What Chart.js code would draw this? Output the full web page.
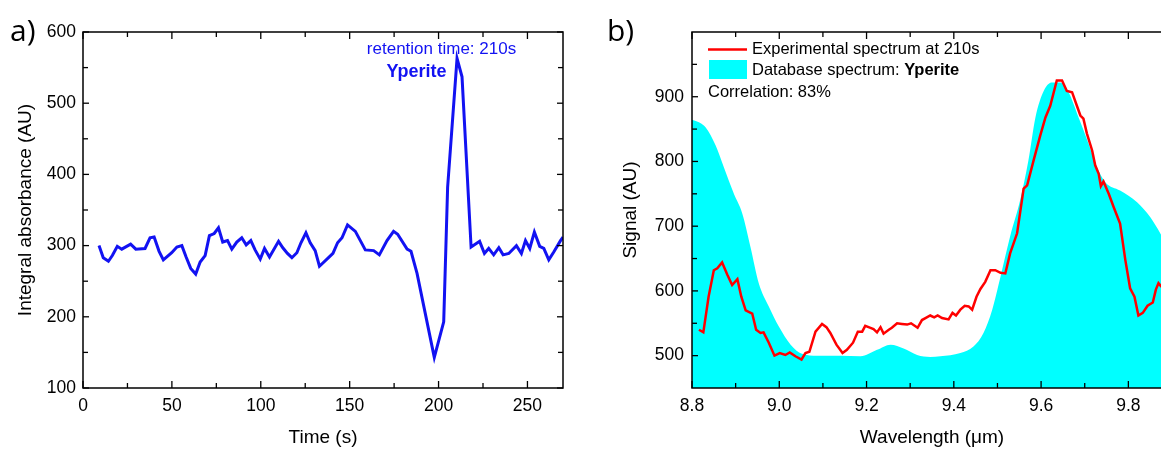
<!DOCTYPE html>
<html>
<head>
<meta charset="utf-8">
<script src="https://cdn.jsdelivr.net/npm/chart.js@4.4.1/dist/chart.umd.min.js"></script>
<style>
html, body { margin:0; padding:0; background:#fff; overflow:hidden; width:1161px; height:452px; }
.box { position:absolute; top:0; width:580px; height:452px; }
#boxA { left:0; }
#boxB { left:600px; }
</style>
</head>
<body>
<div class="box" id="boxA"><canvas id="chartA" width="580" height="452"></canvas></div>
<div class="box" id="boxB"><canvas id="chartB" width="580" height="452"></canvas></div>
<script>
// a) chromatogram
const timeS = [9, 11.4, 14.3, 16.5, 19.3, 21.8, 26.8, 29.7, 34.9, 37.7, 40, 42.8, 45.2, 49.9, 52.8, 55.6, 58, 60.6, 63.4, 65.9,
  68.7, 71.1, 73.8, 76.2, 78.6, 81.3, 83.7, 86.5, 89.3, 91.8, 94.4, 96.8, 99.7, 102.1, 104.9, 110, 112.4, 115, 117.5, 120.3,
  122.6, 125.4, 127.8, 130.6, 133, 138.1, 140.6, 143.2, 145.7, 148.8, 153.2, 156, 158.8, 163.5, 166.7, 171, 174.7, 177, 182.3, 184.5,
  187.9, 197.6, 202.9, 205.1, 210.4, 213.2, 218.3, 223.1, 225.8, 228.2, 231, 233.9, 236.3, 239.5, 243.8, 246.6, 248.9, 251.3, 253.9, 256.9,
  259.2, 262, 264.8, 268.6, 270];
const absorbance = [300, 283, 278, 286, 299, 295, 302, 295, 296, 311, 312, 292, 280, 290, 298, 300, 284, 268, 260, 277,
  286, 314, 317, 325, 305, 307, 295, 305, 311, 301, 307, 294, 281, 296, 284, 306, 297, 289, 283, 290,
  304, 318, 304, 293, 271, 283, 289, 304, 311, 329, 320, 307, 294, 293, 287, 307, 320, 316, 295, 292,
  261, 143, 193, 382, 563, 537, 298, 306, 289, 296, 287, 297, 287, 289, 300, 289, 307, 296, 319, 299,
  296, 280, 291, 307, 312];
const timeTicks = [0, 50, 100, 150, 200, 250];
const timeMinor = [25, 75, 125, 175, 225];
const absTicks = [100, 200, 300, 400, 500, 600];
const absMinor = [150, 250, 350, 450, 550];

// b) spectra
const expWl = [8.816, 8.826, 8.838, 8.850, 8.858, 8.869, 8.881, 8.892, 8.904, 8.913, 8.923, 8.938, 8.947, 8.957, 8.964, 8.976, 8.989,
  9.001, 9.014, 9.024, 9.037, 9.051, 9.060, 9.069, 9.083, 9.098, 9.108, 9.117, 9.131, 9.145, 9.155, 9.169, 9.180, 9.190, 9.197,
  9.209, 9.216, 9.224, 9.232, 9.239, 9.251, 9.258, 9.270, 9.281, 9.293, 9.302, 9.317, 9.327, 9.335, 9.346, 9.355, 9.363, 9.373,
  9.388, 9.397, 9.405, 9.415, 9.425, 9.434, 9.442, 9.452, 9.461, 9.472, 9.484, 9.495, 9.507, 9.518, 9.529, 9.545, 9.560, 9.568,
  9.583, 9.598, 9.610, 9.621, 9.636, 9.648, 9.659, 9.671, 9.682, 9.690, 9.697, 9.705, 9.717, 9.724, 9.732, 9.737, 9.743, 9.755,
  9.766, 9.781, 9.793, 9.804, 9.814, 9.823, 9.833, 9.844, 9.856, 9.863, 9.869, 9.875, 9.9];
const expSignal = [540, 536, 591, 632, 635, 644, 625, 609, 618, 591, 570, 565, 540, 535, 536, 520, 500,
  504, 501, 505, 499, 494, 504, 506, 537, 549, 544, 535, 517, 504, 509, 520, 537, 537, 546,
  543, 541, 536, 544, 534, 540, 543, 550, 549, 548, 550, 543, 555, 558, 562, 559, 562, 558,
  556, 566, 562, 571, 577, 576, 571, 591, 603, 614, 632, 632, 628, 627, 658, 689, 758, 763,
  802, 840, 868, 886, 925, 925, 909, 907, 886, 871, 866, 843, 817, 794, 781, 762, 769, 750,
  730, 704, 648, 604, 591, 562, 566, 577, 582, 602, 612, 607, 604];
const dbWl = [8.8, 8.807, 8.831, 8.854, 8.873, 8.896, 8.915, 8.934, 8.953, 8.976, 8.999, 9.026, 9.052, 9.087, 9.140, 9.186,
  9.224, 9.255, 9.285, 9.316, 9.346, 9.369, 9.415, 9.445, 9.468, 9.488, 9.507, 9.529, 9.552, 9.571, 9.587, 9.606, 9.625,
  9.644, 9.663, 9.686, 9.709, 9.728, 9.747, 9.781, 9.820, 9.850, 9.873, 9.9];
const dbSignal = [864, 863, 853, 825, 791, 750, 720, 668, 612, 576, 545, 517, 503, 500, 500, 499,
  509, 517, 511, 501, 498, 499, 504, 514, 535, 571, 622, 684, 740, 802, 868, 909, 922,
  922, 907, 868, 827, 791, 768, 755, 737, 714, 689, 655];
const wlTicks = [8.8, 9.0, 9.2, 9.4, 9.6, 9.8];
const wlMinor = [8.9, 9.1, 9.3, 9.5, 9.7, 9.9];
const sigTicks = [500, 600, 700, 800, 900];
const sigMinor = [550, 650, 750, 850, 950];

const FONT = '"Liberation Sans", Arial, sans-serif';
Chart.defaults.font.family = FONT;
Chart.defaults.color = '#000';

const BLUE = '#1212f2';

// box around the plot with inward ticks on every side
const framePlugin = {
  id: 'frame',
  afterDatasetsDraw(chart, args, opts) {
    const ctx = chart.ctx, a = chart.chartArea;
    const sx = chart.scales.x, sy = chart.scales.y;
    ctx.save();
    ctx.strokeStyle = '#000';
    ctx.lineWidth = 1.5;
    ctx.strokeRect(a.left, a.top, a.right - a.left, a.bottom - a.top);
    ctx.lineWidth = 1.3;
    function seg(x1, y1, x2, y2) {
      ctx.beginPath(); ctx.moveTo(x1, y1); ctx.lineTo(x2, y2); ctx.stroke();
    }
    function xt(vals, len) {
      vals.forEach(v => {
        const p = sx.getPixelForValue(v);
        if (p < a.left - 1 || p > a.right + 1) return;
        seg(p, a.bottom, p, a.bottom - len);
        seg(p, a.top, p, a.top + len);
      });
    }
    function yt(vals, len) {
      vals.forEach(v => {
        const p = sy.getPixelForValue(v);
        if (p < a.top - 1 || p > a.bottom + 1) return;
        seg(a.left, p, a.left + len, p);
        seg(a.right, p, a.right - len, p);
      });
    }
    xt(opts.xMajor, 7); xt(opts.xMinor, 5);
    yt(opts.yMajor, 6); yt(opts.yMinor, 5);
    ctx.restore();
  }
};

const notesA = {
  id: 'notesA',
  afterDraw(chart) {
    const ctx = chart.ctx;
    ctx.save();
    ctx.fillStyle = '#000';
    ctx.font = '30px "Open Sans", sans-serif';
    ctx.textBaseline = 'alphabetic';
    ctx.textAlign = 'left';
    ctx.fillText('a)', 10, 41);
    ctx.fillStyle = BLUE;
    ctx.textAlign = 'center';
    ctx.textBaseline = 'middle';
    ctx.font = '17px ' + FONT;
    ctx.fillText('retention time: 210s', 441.5, 49.5);
    ctx.font = 'bold 18px ' + FONT;
    ctx.fillText('Yperite', 416.5, 72.5);
    ctx.restore();
  }
};

const notesB = {
  id: 'notesB',
  afterDraw(chart) {
    const ctx = chart.ctx;
    ctx.save();
    ctx.fillStyle = '#000';
    ctx.font = '30px "Open Sans", sans-serif';
    ctx.textBaseline = 'alphabetic';
    ctx.fillText('b)', 7, 41);
    // legend
    ctx.strokeStyle = '#ff0000';
    ctx.lineWidth = 2.5;
    ctx.beginPath(); ctx.moveTo(108, 49.5); ctx.lineTo(147, 49.5); ctx.stroke();
    ctx.fillStyle = '#00ffff';
    ctx.fillRect(109, 60, 38, 19);
    ctx.fillStyle = '#000';
    ctx.textBaseline = 'middle';
    ctx.font = '16.5px ' + FONT;
    ctx.fillText('Experimental spectrum at 210s', 152, 49.5);
    const lead = 'Database spectrum: ';
    ctx.fillText(lead, 152, 70);
    const w = ctx.measureText(lead).width;
    ctx.font = 'bold 16.5px ' + FONT;
    ctx.fillText('Yperite', 152 + w, 70);
    ctx.font = '16.5px ' + FONT;
    ctx.fillText('Correlation: 83%', 108, 92);
    ctx.restore();
  }
};

new Chart(document.getElementById('chartA'), {
  type: 'line',
  data: {
    datasets: [{
      data: timeS.map((t, i) => ({x: t, y: absorbance[i]})),
      borderColor: BLUE,
      borderWidth: 3,
      pointRadius: 0,
      tension: 0,
      fill: false
    }]
  },
  options: {
    responsive: false,
    animation: false,
    layout: {padding: {top: 32, right: 17, left: 0, bottom: 0}},
    plugins: {
      legend: {display: false},
      tooltip: {enabled: false},
      frame: {xMajor: timeTicks, xMinor: timeMinor, yMajor: absTicks, yMinor: absMinor}
    },
    scales: {
      x: {
        type: 'linear', min: 0, max: 270,
        grid: {display: false, drawTicks: false},
        border: {display: false},
        afterBuildTicks: s => { s.ticks = timeTicks.map(v => ({value: v})); },
        afterFit: s => { s.height = 64; },
        ticks: {padding: 8, font: {size: 17.5}, maxRotation: 0},
        title: {display: true, text: 'Time (s)', font: {size: 19}, padding: {top: 0, bottom: 3}}
      },
      y: {
        min: 100, max: 600,
        grid: {display: false, drawTicks: false},
        border: {display: false},
        afterBuildTicks: s => { s.ticks = absTicks.map(v => ({value: v})); },
        afterFit: s => { s.width = 83; },
        ticks: {padding: 7, font: {size: 17.5}},
        title: {display: true, text: 'Integral absorbance (AU)', font: {size: 19}, padding: {top: 14, bottom: 0}}
      }
    }
  },
  plugins: [framePlugin, notesA]
});

new Chart(document.getElementById('chartB'), {
  type: 'line',
  data: {
    datasets: [{
      label: 'Experimental spectrum at 210s',
      data: expWl.map((w, i) => ({x: w, y: expSignal[i]})),
      borderColor: '#ff0000',
      borderWidth: 2.5,
      pointRadius: 0,
      tension: 0,
      fill: false
    }, {
      label: 'Database spectrum: Yperite',
      data: dbWl.map((w, i) => ({x: w, y: dbSignal[i]})),
      borderColor: 'rgba(0,0,0,0)',
      borderWidth: 0,
      backgroundColor: '#00ffff',
      pointRadius: 0,
      cubicInterpolationMode: 'monotone',
      fill: 'start'
    }]
  },
  options: {
    responsive: false,
    animation: false,
    layout: {padding: {top: 32, right: 8, left: 0, bottom: 0}},
    plugins: {
      legend: {display: false},
      tooltip: {enabled: false},
      frame: {xMajor: wlTicks, xMinor: wlMinor, yMajor: sigTicks, yMinor: sigMinor}
    },
    scales: {
      x: {
        type: 'linear', min: 8.8, max: 9.9,
        grid: {display: false, drawTicks: false},
        border: {display: false},
        afterBuildTicks: s => { s.ticks = wlTicks.map(v => ({value: v})); },
        afterFit: s => { s.height = 64; },
        ticks: {padding: 8, font: {size: 17.5}, maxRotation: 0, callback: v => Number(v).toFixed(1)},
        title: {display: true, text: 'Wavelength (\u03bcm)', font: {size: 19}, padding: {top: 0, bottom: 3}}
      },
      y: {
        min: 450, max: 1000,
        grid: {display: false, drawTicks: false},
        border: {display: false},
        afterBuildTicks: s => { s.ticks = sigTicks.map(v => ({value: v})); },
        afterFit: s => { s.width = 92; },
        ticks: {padding: 8, font: {size: 17.5}},
        title: {display: true, text: 'Signal (AU)', font: {size: 19}, padding: {top: 19, bottom: 0}}
      }
    }
  },
  plugins: [framePlugin, notesB]
});
</script>
</body>
</html>
